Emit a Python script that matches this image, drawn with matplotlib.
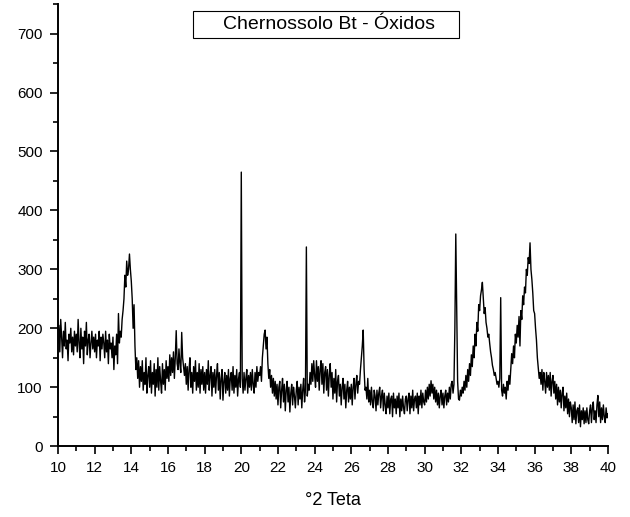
import numpy as np
import matplotlib
matplotlib.use('Agg')
from matplotlib import pyplot as plt
from matplotlib.ticker import MultipleLocator
from matplotlib.patches import Rectangle

# 2-theta from 10 to 40 in steps of 0.05, intensities
two_theta = np.round(np.arange(10.0, 40.001, 0.05), 2)
counts = [
    175, 205, 160, 215, 185, 150, 195, 170, 210, 165, 180, 145, 190, 175, 200, 160, 185, 155, 195, 170,  # 10
    190, 160, 215, 175, 150, 200, 165, 185, 140, 195, 170, 210, 155, 180, 190, 150, 175, 195, 165, 185,  # 11
    160, 190, 150, 180, 170, 195, 145, 185, 165, 190, 175, 150, 195, 160, 180, 140, 190, 165, 175, 150,  # 12
    185, 130, 170, 155, 190, 140, 225, 175, 195, 185, 215, 230, 250, 290, 270, 314, 290, 300, 326, 300,  # 13
    280, 250, 200, 240, 170, 130, 150, 115, 145, 100, 135, 110, 145, 95, 125, 105, 150, 90, 120, 135,    # 14
    100, 145, 90, 125, 105, 140, 85, 130, 100, 150, 95, 135, 110, 90, 140, 105, 130, 95, 145, 115,       # 15
    135, 110, 155, 120, 150, 125, 160, 115, 150, 196, 140, 130, 165, 140, 125, 193, 150, 135, 120, 140,  # 16
    105, 135, 95, 130, 150, 100, 125, 90, 135, 110, 145, 95, 125, 100, 140, 90, 130, 105, 135, 95,       # 17
    125, 90, 130, 105, 145, 95, 120, 135, 85, 125, 100, 130, 90, 120, 140, 95, 125, 80, 115, 130,        # 18
    78, 110, 125, 90, 120, 95, 130, 85, 115, 125, 95, 135, 90, 120, 100, 130, 85, 115, 125, 100,         # 19
    465, 115, 90, 125, 95, 115, 130, 90, 120, 100, 125, 95, 130, 105, 90, 125, 100, 135, 110, 125,       # 20
    120, 135, 110, 150, 170, 190, 197, 165, 185, 140, 115, 130, 100, 120, 90, 115, 85, 110, 80, 105,     # 21
    70, 100, 110, 65, 95, 115, 75, 105, 60, 95, 110, 75, 100, 58, 90, 105, 70, 100, 85, 65,              # 22
    95, 110, 70, 100, 80, 105, 65, 95, 115, 75, 95, 338, 85, 105, 95, 125, 105, 140, 110, 145,           # 23
    120, 100, 145, 110, 135, 95, 130, 145, 105, 140, 90, 125, 135, 95, 130, 85, 120, 140, 100, 125,      # 24
    80, 115, 90, 130, 75, 110, 120, 85, 105, 70, 100, 115, 80, 105, 65, 95, 110, 75, 100, 80,            # 25
    105, 70, 100, 115, 80, 105, 120, 90, 110, 105, 130, 150, 170, 197, 130, 95, 100, 80, 115, 75,        # 26
    95, 70, 100, 75, 65, 95, 85, 60, 95, 70, 90, 100, 65, 85, 95, 60, 90, 70, 55, 85,                    # 27
    65, 90, 55, 80, 85, 50, 90, 65, 80, 55, 85, 65, 90, 50, 80, 60, 85, 65, 55, 80,                      # 28
    85, 60, 80, 90, 55, 85, 65, 95, 60, 80, 85, 65, 90, 55, 85, 70, 95, 65, 90, 75,                      # 29
    70, 95, 75, 100, 80, 105, 85, 111, 90, 105, 80, 100, 75, 95, 70, 90, 65, 85, 95, 70,                 # 30
    90, 65, 85, 95, 70, 90, 75, 100, 80, 105, 110, 90, 105, 200, 360, 230, 110, 80, 78, 95,              # 31
    85, 100, 90, 110, 95, 120, 100, 130, 110, 140, 120, 155, 135, 170, 150, 190, 170, 210, 195, 240,     # 32
    230, 255, 265, 278, 250, 225, 235, 210, 200, 185, 190, 174, 160, 150, 137, 130, 120, 125, 115, 105,  # 33
    110, 100, 115, 252, 95, 85, 105, 90, 100, 80, 110, 95, 120, 105, 130, 157, 140, 170, 150, 190,       # 34
    175, 205, 185, 220, 170, 230, 215, 255, 240, 270, 260, 300, 290, 320, 310, 345, 300, 283, 260, 230,  # 35
    225, 200, 180, 150, 133, 115, 125, 105, 130, 95, 125, 110, 90, 125, 100, 120, 95, 125, 85, 110,      # 36
    120, 90, 110, 80, 105, 70, 100, 75, 95, 65, 90, 100, 60, 85, 65, 90, 55, 80, 50, 75,                 # 37
    65, 40, 70, 45, 75, 38, 60, 65, 40, 70, 33, 60, 45, 65, 38, 60, 40, 65, 45, 38,                      # 38
    60, 70, 40, 65, 75, 45, 60, 40, 70, 86, 50, 75, 40, 65, 45, 70, 50, 40, 65, 48,                      # 39
    55,                                                                                                  # 40
]
assert len(counts) == len(two_theta)

plt.rcParams['font.family'] = ['Liberation Sans', 'DejaVu Sans']

fig = plt.figure(figsize=(6.3, 5.17), dpi=100)
ax = fig.add_axes([0.092, 0.137, 0.873, 0.855])
ax.plot(two_theta, counts, color='black', linewidth=1.0)

ax.set_xlim(10, 40)
ax.set_ylim(0, 750)
ax.xaxis.set_major_locator(MultipleLocator(2))
ax.xaxis.set_minor_locator(MultipleLocator(1))
ax.yaxis.set_major_locator(MultipleLocator(100))
ax.yaxis.set_minor_locator(MultipleLocator(50))
ax.tick_params(which='major', direction='out', length=6, width=1.2, labelsize=11)
ax.tick_params(which='minor', direction='out', length=3.5, width=1.2)
ax.tick_params(axis='x', which='major', pad=5)
ax.tick_params(axis='y', which='major', pad=5)
ax.spines['top'].set_visible(False)
ax.spines['right'].set_visible(False)
ax.spines['left'].set_linewidth(1.4)
ax.spines['bottom'].set_linewidth(1.4)

ax.set_xlabel('°2 Teta', fontsize=13, labelpad=12)

# framed title inside the plot area
ax.add_patch(Rectangle((0.245, 0.923), 0.484, 0.061, transform=ax.transAxes,
                       facecolor='white', edgecolor='black', linewidth=0.8,
                       zorder=3))
ax.text(0.493, 0.954, 'Chernossolo Bt - Óxidos', transform=ax.transAxes,
        ha='center', va='center', fontsize=14, zorder=4)

fig.savefig('out.png', dpi=100)
